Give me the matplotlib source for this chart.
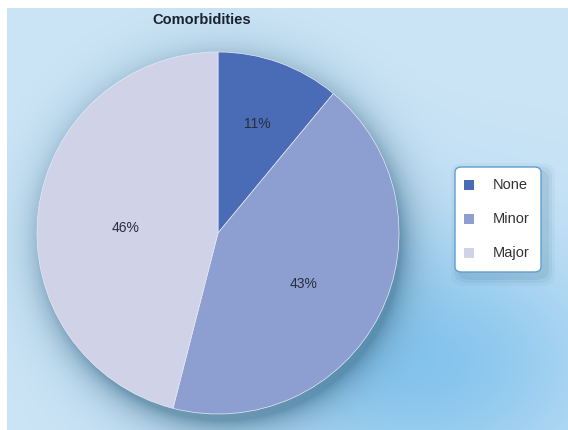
import numpy as np
import matplotlib.pyplot as plt
from matplotlib.patches import FancyBboxPatch, Rectangle

plt.rcParams['font.family'] = ['Liberation Sans', 'DejaVu Sans']

# data
labels = ['None', 'Minor', 'Major']
shares = [11, 43, 46]
colors = ['#4a6cb6', '#8d9fd1', '#d0d3e8']
title = 'Comorbidities'

W, H = 568, 430
fig = plt.figure(figsize=(W / 100, H / 100), dpi=100)
fig.patch.set_facecolor('white')

# backdrop: soft blue gradient with a brighter blue patch and a drop shadow under the pie
bg_ax = fig.add_axes([7 / W, 0, 1 - 7 / W, 1 - 8 / H])
bw, bh = W - 7, H - 8
yy, xx = np.mgrid[0:bh, 0:bw].astype(float)
base = np.array([203, 228, 246]) / 255.0
blob = np.array([130, 195, 237]) / 255.0
wgt = 0.95 * np.exp(-(((xx - 415) / 185) ** 2 + ((yy - 355) / 130) ** 2))
img = base[None, None, :] * (1 - wgt[..., None]) + blob[None, None, :] * wgt[..., None]
# shadow halo
cx, cy, R = 218 - 7 + 5, 233 - 8 + 10, 181
d = np.hypot(xx - cx, yy - cy)
sh = np.exp(-np.clip(d - R + 4, 0, None) / 16.0) * 0.6
shadow_col = np.array([55, 105, 135]) / 255.0
img = img * (1 - sh[..., None]) + shadow_col[None, None, :] * sh[..., None]
bg_ax.imshow(img, extent=[0, bw, bh, 0], aspect='auto', interpolation='bilinear')
bg_ax.set_axis_off()

# pie
pcx, pcy, pr = 218, 233, 181
ax = fig.add_axes([(pcx - pr) / W, (H - pcy - pr) / H, 2 * pr / W, 2 * pr / H])
wedges, texts, autotexts = ax.pie(
    shares, colors=colors, startangle=90, counterclock=False,
    autopct='%d%%', pctdistance=0.58, radius=1.0,
    wedgeprops=dict(edgecolor='#e8eaf4', linewidth=0.5),
    textprops=dict(fontsize=10, color='#2a2d3a'))
# per-slice label distance and small angular nudge
label_r = [0.64, 0.55, 0.51]
label_da = [0, -4, 4]
for w, t, r, da in zip(wedges, autotexts, label_r, label_da):
    ang = np.deg2rad((w.theta1 + w.theta2) / 2 + da)
    t.set_position((r * np.cos(ang), r * np.sin(ang)))
ax.set_xlim(-1, 1)
ax.set_ylim(-1, 1)
ax.set_aspect('auto')
ax.set_axis_off()

fig.text(202 / W, 1 - 20 / H, title, ha='center', va='center',
         fontsize=10.5, fontweight='bold', color='#1b2233')

# legend box with soft shadow
lx0, ly0, lx1, ly1 = 455, 167, 541, 272
for k, a in [(9, 0.04), (6, 0.06), (3, 0.08)]:
    fig.patches.append(FancyBboxPatch(
        ((lx0 - k + 5) / W, (H - ly1 - k - 5) / H), (lx1 - lx0 + 2 * k) / W, (ly1 - ly0 + 2 * k) / H,
        boxstyle='round,pad=0,rounding_size=0.025', transform=fig.transFigure,
        facecolor='#1f4f70', edgecolor='none', alpha=a))
fig.patches.append(FancyBboxPatch(
    (lx0 / W, (H - ly1) / H), (lx1 - lx0) / W, (ly1 - ly0) / H,
    boxstyle='round,pad=0,rounding_size=0.012', transform=fig.transFigure,
    facecolor='white', edgecolor='#5f9fcf', linewidth=1.0))
for i, (lab, col) in enumerate(zip(labels, colors)):
    yc = 185 + i * 34
    fig.patches.append(Rectangle((464 / W, (H - yc - 5) / H), 10 / W, 10 / H,
                                 transform=fig.transFigure, facecolor=col, edgecolor='none'))
    fig.text(493 / W, 1 - yc / H, lab, ha='left', va='center', fontsize=10.5, color='#333333')

fig.savefig('out.png', dpi=100)
